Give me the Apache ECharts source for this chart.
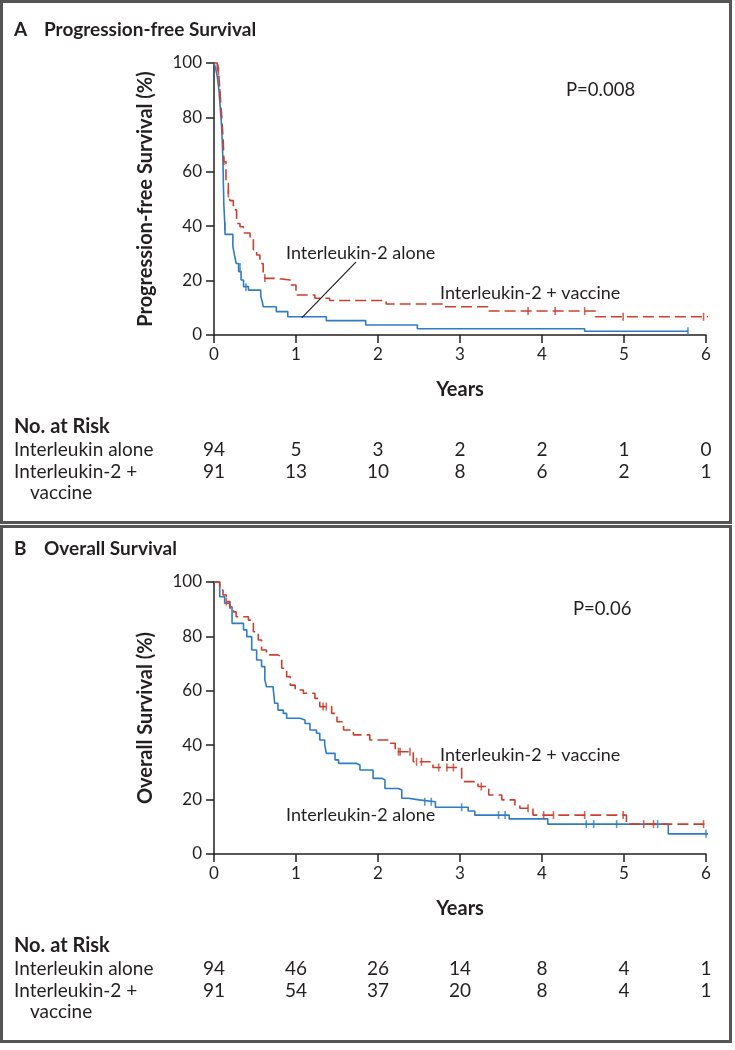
<!DOCTYPE html>
<html><head><meta charset="utf-8">
<script src="https://cdn.jsdelivr.net/npm/echarts@6/dist/echarts.min.js"></script>
<style>html,body{margin:0;padding:0;background:#fff}#c{width:735px;height:1050px}</style>
</head><body><div id="c"></div>
<script>
// ---- Data ----
const years = [0, 1, 2, 3, 4, 5, 6];
const riskLabels = ['Interleukin alone', 'Interleukin-2 +', 'vaccine'];
const pfsRiskAlone = [94, 5, 3, 2, 2, 1, 0];
const pfsRiskVaccine = [91, 13, 10, 8, 6, 2, 1];
const osRiskAlone = [94, 46, 26, 14, 8, 4, 1];
const osRiskVaccine = [91, 54, 37, 20, 8, 4, 1];

// Kaplan-Meier steps: [years, survival % after event]
const pfsAlone = [[0,100],[0.02,98],[0.04,95],[0.06,90],[0.07,86],[0.08,82],[0.09,78],[0.10,72],[0.11,63],[0.115,55],[0.12,48],[0.13,42],[0.135,37],
  [0.23,32.5],[0.25,29.4],[0.27,26.3],[0.30,23.3],[0.33,20.2],[0.36,17.8],[0.42,16.5],[0.57,14.2],[0.59,12.1],[0.60,10.4],[0.76,8.6],[0.90,6.7],
  [1.37,5.3],[1.85,3.7],[2.48,2.3],[4.52,1.4],[5.78,1.4]];
const pfsAloneCensor = [[0.134,40],[0.317,25],[0.39,17.6],[5.78,1.4]];
const pfsVaccine = [[0,100],[0.04,98],[0.06,95],[0.073,89],[0.094,80.4],[0.114,70.5],[0.12,63.7],[0.146,55.8],[0.175,52],[0.195,49.4],[0.236,46],
  [0.276,41],[0.317,39.8],[0.358,37.5],[0.44,35.7],[0.48,31.4],[0.52,29.4],[0.56,26.3],[0.60,23.3],[0.62,20.8],[0.76,20.2],[0.93,18.4],[1.0,14.7],
  [1.23,13.5],[1.41,12.7],[2.1,11.4],[2.8,10.4],[3.34,8.8],[4.65,6.7],[6.1,6.7]];
const pfsVaccineCensor = [[0.05,98],[0.055,97],[0.073,89],[0.12,64],[0.175,52],[0.62,21],[3.83,8.8],[4.16,8.8],[4.52,8.8],[4.99,6.7],[5.97,6.7]];

const osAlone = [[0,100],[0.07,94.6],[0.13,92.2],[0.19,90.9],[0.22,84.8],[0.36,82.4],[0.40,79.9],[0.46,75],[0.52,71.3],[0.58,68.9],[0.62,64],
  [0.64,61.5],[0.72,60.9],[0.74,55.4],[0.78,52.9],[0.845,51.7],[0.886,49.9],[1.05,49.3],[1.11,48],[1.17,45.6],[1.25,44.4],[1.29,41.9],[1.35,40.1],
  [1.37,37],[1.476,34.6],[1.52,33.3],[1.74,32.7],[1.78,30.9],[1.94,27.8],[2.05,27.2],[2.085,24.1],[2.25,23.5],[2.29,20.5],[2.37,19.9],[2.5,19.2],
  [2.7,17.2],[3.1,15.8],[3.18,14.3],[3.6,12.9],[4.07,11],[5.54,7.4],[6.13,7.4]];
const osAloneCensor = [[2.57,19.2],[2.65,19.2],[3.02,17.2],[3.47,14.3],[3.55,14.3],[4.54,11],[4.63,11],[4.91,11],[5.41,11],[6.0,7.4]];
const osVaccine = [[0,100],[0.07,97],[0.11,95.2],[0.15,92.8],[0.195,90.3],[0.24,89],[0.27,87.2],[0.42,86],[0.48,81.7],[0.54,78.7],[0.58,75],
  [0.64,73.2],[0.78,72.5],[0.826,68.3],[0.886,65.2],[0.93,62.1],[0.99,60.3],[1.09,59.1],[1.23,57.2],[1.29,54.2],[1.435,51.7],[1.5,48.6],
  [1.58,45.6],[1.7,43.8],[1.9,41.9],[2.15,40.7],[2.21,37.6],[2.43,33.9],[2.67,31.8],[3.02,26.6],[3.22,24.8],[3.35,21.7],[3.51,19.9],[3.67,18],
  [3.73,16.8],[3.89,14.3],[5.03,11],[6.13,11]];
const osVaccineCensor = [[0.15,92.8],[1.33,54.2],[1.37,54.2],[2.25,37.6],[2.27,37.6],[2.39,37.6],[2.47,33.9],[2.53,33.9],[2.74,31.8],[2.84,31.8],
  [2.92,31.8],[3.26,24.8],[3.83,16.8],[4.02,14.3],[4.14,14.3],[4.52,14.3],[4.99,14.3],[5.24,11],[5.36,11],[5.97,11]];

const panelTitles = [['A', 'Progression-free Survival'], ['B', 'Overall Survival']];
const yTitles = ['Progression-free Survival (%)', 'Overall Survival (%)'];
const pValues = ['P=0.008', 'P=0.06'];
const seriesNames = ['Interleukin-2 alone', 'Interleukin-2 + vaccine'];

// ---- Style ----
const FONT = 'Lato, "Liberation Sans", sans-serif';
const INK = '#231f20';
const BLUE = '#2e7cc3';
const RED = '#c9402e';
const OFF = 519;

const chart = echarts.init(document.getElementById('c'), null, {renderer: 'canvas'});

function xAxisCfg(gi) {
  return {
    type: 'value', gridIndex: gi, min: 0, max: 6, interval: 1,
    name: 'Years', nameLocation: 'middle', nameGap: 45,
    nameTextStyle: {fontFamily: FONT, fontSize: 20, fontWeight: 'bold', color: INK},
    axisLine: {show: true, onZero: false, lineStyle: {color: INK, width: 1.5}},
    axisTick: {show: true, length: 8, lineStyle: {color: INK, width: 1.5}},
    axisLabel: {fontFamily: FONT, fontSize: 17, color: INK, margin: 11},
    splitLine: {show: false}
  };
}
function yAxisCfg(gi) {
  return {
    type: 'value', gridIndex: gi, min: 0, max: 100, interval: 20,
    name: yTitles[gi], nameLocation: 'middle', nameGap: 58, nameRotate: 90,
    nameTextStyle: {fontFamily: FONT, fontSize: 20, fontWeight: 'bold', color: INK},
    axisLine: {show: true, lineStyle: {color: INK, width: 1.5}},
    axisTick: {show: true, length: 8, lineStyle: {color: INK, width: 1.5}},
    axisLabel: {fontFamily: FONT, fontSize: 17, color: INK, margin: 12},
    splitLine: {show: false}
  };
}
function curve(gi, data, color, dashed, extra) {
  return Object.assign({
    type: 'line', xAxisIndex: gi, yAxisIndex: gi, data: data, step: 'end',
    showSymbol: false, symbol: 'none', clip: false, silent: true,
    lineStyle: {color: color, width: 1.6, type: dashed ? [11, 5] : 'solid'},
    z: dashed ? 3 : 2
  }, extra || {});
}
function censor(gi, data, color) {
  return {
    type: 'scatter', xAxisIndex: gi, yAxisIndex: gi, data: data, clip: false, silent: true,
    symbol: 'rect', symbolSize: [1.6, 8], itemStyle: {color: color}, z: 4
  };
}

chart.setOption({
  animation: false,
  backgroundColor: '#fff',
  grid: [
    {left: 214, top: 63, width: 492, height: 272},
    {left: 214, top: 63 + OFF, width: 492, height: 272}
  ],
  xAxis: [xAxisCfg(0), xAxisCfg(1)],
  yAxis: [yAxisCfg(0), yAxisCfg(1)],
  series: [
    curve(0, pfsAlone, BLUE, false, {
      markLine: {
        silent: true, symbol: ['none', 'none'], label: {show: false},
        lineStyle: {color: INK, width: 1.2, type: 'solid'},
        data: [[{coord: [1.73, 26.8]}, {coord: [1.07, 6.3]}]]
      }
    }),
    curve(0, pfsVaccine, RED, true),
    censor(0, pfsAloneCensor, BLUE),
    censor(0, pfsVaccineCensor, RED),
    curve(1, osAlone, BLUE, false),
    curve(1, osVaccine, RED, true),
    censor(1, osAloneCensor, BLUE),
    censor(1, osVaccineCensor, RED)
  ]
});

// ---- Text & frames ----
const g = [];
function txt(x, y, s, opt) {
  g.push({type: 'text', x: x, y: y, silent: true, z: 10, style: Object.assign({
    text: s, fontFamily: FONT, fontSize: 19, fill: INK, textVerticalAlign: 'middle', textAlign: 'left'
  }, opt || {})});
}
g.push({type: 'rect', shape: {x: 1.5, y: 1.5, width: 729, height: 521}, style: {fill: 'none', stroke: '#555', lineWidth: 3}, silent: true});
g.push({type: 'rect', shape: {x: 1.5, y: 526.5, width: 729, height: 515}, style: {fill: 'none', stroke: '#555', lineWidth: 3}, silent: true});

const risk = [[pfsRiskAlone, pfsRiskVaccine], [osRiskAlone, osRiskVaccine]];
for (let p = 0; p < 2; p++) {
  const o = p * OFF;
  txt(14, 30 + o, panelTitles[p][0], {fontSize: 19, fontWeight: 'bold'});
  txt(44, 30 + o, panelTitles[p][1], {fontSize: 19, fontWeight: 'bold'});
  txt(14, 427 + o, 'No. at Risk', {fontSize: 20, fontWeight: 'bold'});
  txt(14, 450 + o, riskLabels[0]);
  txt(14, 472 + o, riskLabels[1]);
  txt(30, 493 + o, riskLabels[2]);
  years.forEach(function (yr, i) {
    const px = chart.convertToPixel({xAxisIndex: p}, yr);
    txt(px, 450 + o, String(risk[p][0][i]), {textAlign: 'center'});
    txt(px, 472 + o, String(risk[p][1][i]), {textAlign: 'center'});
  });
}
txt(566, 90, pValues[0], {fontSize: 18.5});
txt(573, 609, pValues[1], {fontSize: 18.5});
txt(286, 253, seriesNames[0], {fontSize: 18});
txt(440, 293, seriesNames[1], {fontSize: 18});
txt(440, 755, seriesNames[1], {fontSize: 18});
txt(286, 815, seriesNames[0], {fontSize: 18});

chart.setOption({graphic: g});
</script>
</body></html>
